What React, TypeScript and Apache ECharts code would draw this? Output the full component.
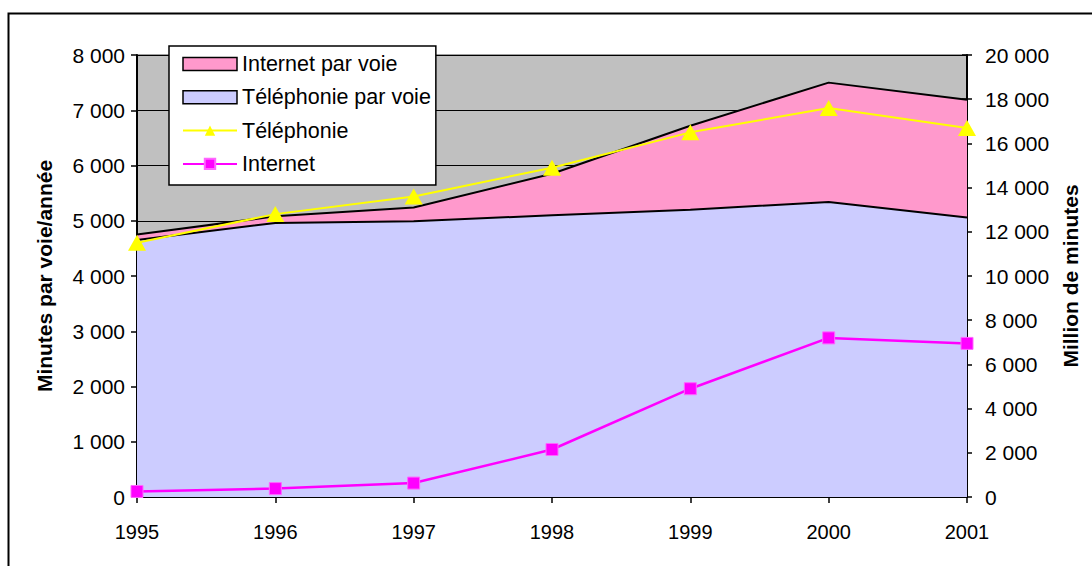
import React, { useEffect, useRef } from "react";
import * as echarts from "echarts";

const years = ["1995", "1996", "1997", "1998", "1999", "2000", "2001"];
const telephonieParVoie = [4650, 4960, 4990, 5100, 5200, 5340, 5060];
const internetParVoie = [100, 120, 250, 750, 1520, 2160, 2130];
const telephonie = [11500, 12800, 13600, 14900, 16500, 17600, 16700];
const internet = [250, 380, 630, 2150, 4900, 7200, 6950];

const FONT = "'Liberation Sans', Arial, sans-serif";
const fmt = (v: number) => {
  const s = String(Math.round(v));
  return s.replace(/\B(?=(\d{3})+(?!\d))/g, " ");
};

export default function App() {
  const ref = useRef<HTMLDivElement>(null);
  useEffect(() => {
    if (!ref.current) return;
    const chart = echarts.init(ref.current, null, { renderer: "svg" });
    const axisLabel = { color: "#000", fontSize: 21, fontFamily: FONT };
    chart.setOption({
      animation: false,
      backgroundColor: "#fff",
      textStyle: { fontFamily: FONT },
      graphic: [
        {
          type: "rect",
          z: -10,
          shape: { x: 8.5, y: 13.5, width: 2000, height: 2000 },
          style: { fill: "none", stroke: "#000", lineWidth: 2 },
          silent: true,
        },
      ],
      grid: {
        left: 137,
        right: 125,
        top: 55,
        bottom: 69,
        show: true,
        backgroundColor: "#C0C0C0",
        borderColor: "#808080",
        borderWidth: 1.5,
      },
      legend: {
        orient: "vertical",
        left: 169,
        top: 46,
        padding: [7, 5, 10, 13],
        itemWidth: 54,
        itemHeight: 13,
        itemGap: 11.3,
        backgroundColor: "#fff",
        borderColor: "#000",
        borderWidth: 1.5,
        borderRadius: 0,
        textStyle: { color: "#000", fontSize: 21.5, fontFamily: FONT, lineHeight: 20 },
        data: [
          { name: "Internet par voie", icon: "rect", itemStyle: { color: "#FF99CC", borderColor: "#000", borderWidth: 1.5 } },
          { name: "Téléphonie par voie", icon: "rect", itemStyle: { color: "#CCCCFF", borderColor: "#000", borderWidth: 1.5 } },
          { name: "Téléphonie" },
          { name: "Internet" },
        ],
      },
      xAxis: {
        type: "category",
        data: years,
        boundaryGap: false,
        axisLine: { lineStyle: { color: "#000", width: 2 } },
        axisTick: { show: true, length: 6, lineStyle: { color: "#000", width: 1.5 } },
        axisLabel: { ...axisLabel, fontSize: 20, margin: 25 },
        splitLine: { show: false },
      },
      yAxis: [
        {
          type: "value",
          min: 0,
          max: 8000,
          interval: 1000,
          position: "left",
          name: "Minutes par voie/année",
          nameLocation: "middle",
          nameRotate: 90,
          nameGap: 82,
          nameTextStyle: { color: "#000", fontSize: 21, fontWeight: "bold", fontFamily: FONT },
          axisLine: { show: true, lineStyle: { color: "#000", width: 2 } },
          axisTick: { show: true, length: 6, lineStyle: { color: "#000", width: 1.5 } },
          axisLabel: { ...axisLabel, margin: 12, formatter: fmt },
          splitLine: { show: true, lineStyle: { color: "#000", width: 1.2 } },
        },
        {
          type: "value",
          min: 0,
          max: 20000,
          interval: 2000,
          position: "right",
          name: "Million de minutes",
          nameLocation: "middle",
          nameRotate: 90,
          nameGap: 86,
          nameTextStyle: { color: "#000", fontSize: 21, fontWeight: "bold", fontFamily: FONT },
          axisLine: { show: true, lineStyle: { color: "#000", width: 2 } },
          axisTick: { show: true, length: 5, lineStyle: { color: "#000", width: 1.5 } },
          axisLabel: { ...axisLabel, margin: 18, formatter: fmt },
          splitLine: { show: false },
        },
        {
          type: "value",
          min: 0,
          max: 20000,
          interval: 2000,
          position: "right",
          axisLine: { show: false },
          axisTick: { show: true, inside: true, length: 5, lineStyle: { color: "#000", width: 1.5 } },
          axisLabel: { show: false },
          splitLine: { show: false },
        },
      ],
      series: [
        {
          name: "Téléphonie par voie",
          type: "line",
          stack: "voie",
          yAxisIndex: 0,
          data: telephonieParVoie,
          symbol: "none",
          lineStyle: { color: "#000", width: 2 },
          itemStyle: { color: "#CCCCFF" },
          areaStyle: { color: "#CCCCFF", opacity: 1 },
          z: 1,
        },
        {
          name: "Internet par voie",
          type: "line",
          stack: "voie",
          yAxisIndex: 0,
          data: internetParVoie,
          symbol: "none",
          lineStyle: { color: "#000", width: 2 },
          itemStyle: { color: "#FF99CC" },
          areaStyle: { color: "#FF99CC", opacity: 1 },
          z: 1,
        },
        {
          name: "Téléphonie",
          type: "line",
          yAxisIndex: 1,
          data: telephonie,
          symbol: "triangle",
          symbolSize: [18, 16],
          lineStyle: { color: "#FFFF00", width: 2 },
          itemStyle: { color: "#FFFF00", borderWidth: 0 },
          z: 3,
        },
        {
          name: "Internet",
          type: "line",
          yAxisIndex: 1,
          data: internet,
          symbol: "rect",
          symbolSize: 12,
          lineStyle: { color: "#FF00FF", width: 2.5 },
          itemStyle: { color: "#FF00FF", borderColor: "#FF66FF", borderWidth: 1 },
          z: 3,
        },
      ],
    });
    return () => chart.dispose();
  }, []);
  return (
    <div
      ref={ref}
      style={{ position: "absolute", left: 0, top: 0, width: 1092, height: 566 }}
    />
  );
}
